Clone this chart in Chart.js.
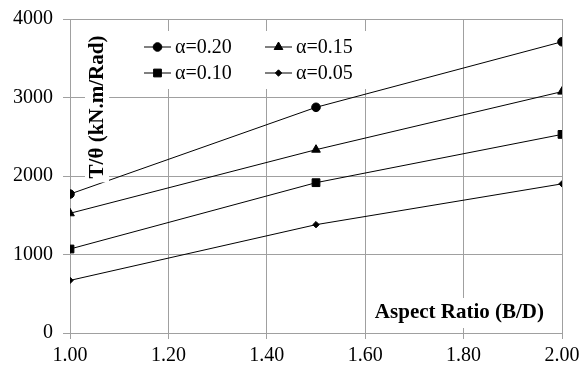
<!DOCTYPE html>
<html>
<head>
<meta charset="utf-8">
<script src="https://cdn.jsdelivr.net/npm/chart.js@4/dist/chart.umd.min.js"></script>
<style>
  html, body { margin: 0; padding: 0; background: #fff; }
  #wrap { width: 587px; height: 369px; }
</style>
</head>
<body>
<div id="wrap"><canvas id="canvas" width="587" height="369"></canvas></div>
<script>
'use strict';

const aspectRatio = [1.0, 1.5, 2.0];
const alpha20 = [1770, 2875, 3710];
const alpha15 = [1525, 2335, 3075];
const alpha10 = [1070, 1915, 2530];
const alpha05 = [670, 1380, 1900];
const seriesNames = ['\u03b1=0.20', '\u03b1=0.15', '\u03b1=0.10', '\u03b1=0.05'];
const xTitle = 'Aspect Ratio (B/D)';
const yTitle = 'T/\u03b8 (kN.m/Rad)';

const font = '"Liberation Serif", "DejaVu Serif", serif';
const gridGray = '#a0a0a0';

function toPoints(vals) {
  return vals.map((v, i) => ({ x: aspectRatio[i], y: v }));
}

function makeSet(label, vals, style, radius) {
  return {
    label: label,
    data: toPoints(vals),
    borderColor: '#000',
    backgroundColor: '#000',
    borderWidth: 1,
    pointStyle: style,
    pointRadius: radius,
    pointHoverRadius: radius,
    tension: 0
  };
}

// white boxes with text drawn over the plot, like the original
const overlay = {
  id: 'overlay',
  afterDatasetsDraw(chart) {
    const ctx = chart.ctx;
    ctx.save();

    // legend box
    ctx.fillStyle = '#fff';
    ctx.fillRect(140, 31, 230, 58);
    const rows = [47, 73];
    const cols = [144, 265];
    chart.data.datasets.forEach((ds, i) => {
      const x0 = cols[i % 2];
      const y0 = rows[Math.floor(i / 2)];
      ctx.strokeStyle = '#000';
      ctx.lineWidth = 1;
      ctx.beginPath();
      ctx.moveTo(x0, y0);
      ctx.lineTo(x0 + 27, y0);
      ctx.stroke();
      ctx.fillStyle = '#000';
      Chart.helpers.drawPoint(ctx, {
        pointStyle: ds.pointStyle,
        radius: ds.pointRadius,
        borderWidth: 1
      }, x0 + 13.5, y0);
      ctx.font = '20px ' + font;
      ctx.textBaseline = 'middle';
      ctx.textAlign = 'left';
      ctx.fillText(ds.label, x0 + 31, y0 + 1);
    });

    // y title
    ctx.font = 'bold 21px ' + font;
    const yw = ctx.measureText(yTitle).width;
    const cx = 97, cy = 107;
    ctx.fillStyle = '#fff';
    ctx.fillRect(cx - 12, cy - yw / 2 - 4, 24, yw + 8);
    ctx.translate(cx, cy);
    ctx.rotate(-Math.PI / 2);
    ctx.fillStyle = '#000';
    ctx.textAlign = 'center';
    ctx.textBaseline = 'middle';
    ctx.fillText(yTitle, 0, 1);
    ctx.setTransform(1, 0, 0, 1, 0, 0);

    // x title
    ctx.font = 'bold 21px ' + font;
    const xw = ctx.measureText(xTitle).width;
    const xr = 544, xy = 313;
    ctx.fillStyle = '#fff';
    ctx.fillRect(xr - xw - 6, xy - 15, xw + 12, 30);
    ctx.fillStyle = '#000';
    ctx.textAlign = 'right';
    ctx.textBaseline = 'middle';
    ctx.fillText(xTitle, xr, xy);

    ctx.restore();
  }
};

new Chart(document.getElementById('canvas'), {
  type: 'line',
  data: {
    datasets: [
      makeSet(seriesNames[0], alpha20, 'circle', 4.3),
      makeSet(seriesNames[1], alpha15, 'triangle', 5),
      makeSet(seriesNames[2], alpha10, 'rect', 5.5),
      makeSet(seriesNames[3], alpha05, 'rectRot', 3.2)
    ]
  },
  options: {
    responsive: false,
    animation: false,
    devicePixelRatio: 1,
    layout: { padding: { left: 0, top: 19, right: 25, bottom: 0 } },
    plugins: {
      legend: { display: false },
      tooltip: { enabled: false }
    },
    scales: {
      x: {
        type: 'linear',
        min: 1.0,
        max: 2.0,
        afterFit(s) { s.height = 36; s.paddingLeft = 0; s.paddingRight = 0; },
        ticks: {
          stepSize: 0.2,
          color: '#000',
          padding: 5,
          font: { family: font, size: 20 },
          callback: v => v.toFixed(2)
        },
        grid: { color: gridGray, tickLength: 6 },
        border: { color: gridGray }
      },
      y: {
        min: 0,
        max: 4000,
        afterFit(s) { s.width = 70; s.paddingTop = 0; s.paddingBottom = 0; },
        ticks: {
          stepSize: 1000,
          color: '#000',
          padding: 10,
          font: { family: font, size: 20 },
          callback: v => String(v)
        },
        grid: { color: gridGray, tickLength: 7 },
        border: { color: gridGray }
      }
    }
  },
  plugins: [overlay]
});
</script>
</body>
</html>
